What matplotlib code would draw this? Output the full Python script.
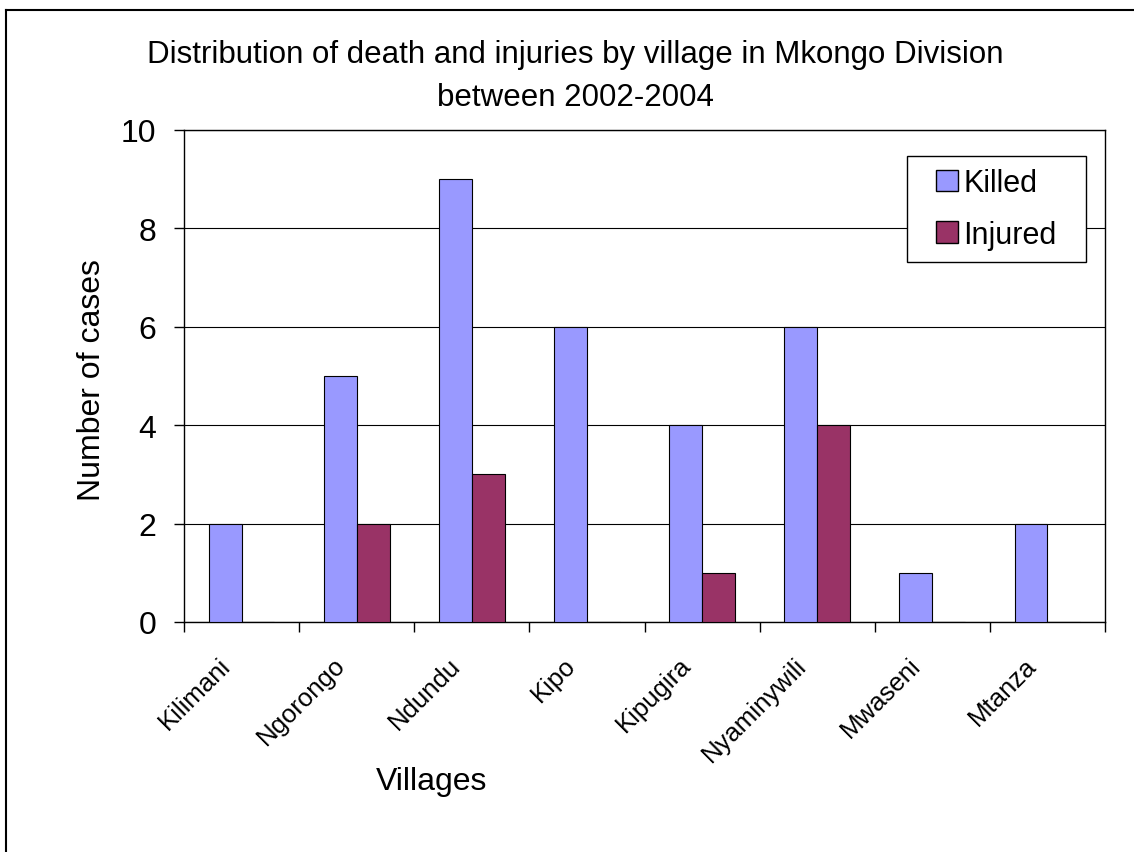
import numpy as np
import matplotlib
matplotlib.use("Agg")
import matplotlib.pyplot as plt
from matplotlib.lines import Line2D
from matplotlib.patches import Rectangle

plt.rcParams['font.family'] = ['Liberation Sans', 'DejaVu Sans']

villages = ["Kilimani", "Ngorongo", "Ndundu", "Kipo", "Kipugira",
            "Nyaminywili", "Mwaseni", "Mtanza"]
killed = [2, 5, 9, 6, 4, 6, 1, 2]
injured = [0, 2, 3, 0, 1, 4, 0, 0]

fig = plt.figure(figsize=(11.34, 8.53), dpi=100)
ax = fig.add_axes([184/1134, 1 - 623/853, (1105 - 184)/1134, (623 - 131)/853])

x = np.arange(len(villages))
w = 1 / 3.5
ax.bar(x - w/2, killed, w, color="#9999FF", edgecolor="black", linewidth=0.8,
       label="Killed", zorder=3)
ax.bar(x + w/2, injured, w, color="#993366", edgecolor="black", linewidth=0.8,
       label="Injured", zorder=3)

ax.set_xlim(-0.5, len(villages) - 0.5)
ax.set_ylim(0, 10)
ax.set_yticks([0, 2, 4, 6, 8, 10])
ax.yaxis.grid(True, color="black", linewidth=0.8, zorder=0)
ax.set_axisbelow(True)

# ticks at the category boundaries, labels near the centres
ax.set_xticks(np.arange(-0.5, len(villages)), minor=False)
ax.set_xticklabels([])
ax.set_xticks(x - 0.13, minor=True)
ax.set_xticklabels(villages, minor=True, rotation=45, ha="right", va="center",
                   rotation_mode="anchor", fontsize=18.5)
ax.tick_params(axis="x", which="minor", length=0, pad=28)
ax.tick_params(axis="x", which="major", length=7, width=1, direction="out")
ax.tick_params(axis="y", length=7, width=1, labelsize=23, pad=13)

for s in ax.spines.values():
    s.set_color("black")
    s.set_linewidth(1)

fig.text(575/1134, 1 - 55/853, "Distribution of death and injuries by village in Mkongo Division",
         ha="center", va="center", fontsize=22.5)
fig.text(575/1134, 1 - 98/853, "between 2002-2004", ha="center", va="center", fontsize=22.5)
fig.text(432/1134, 1 - 782/853, "Villages", ha="center", va="center", fontsize=23)
fig.text(92/1134, 1 - 380/853, "Number of cases", ha="center", va="center",
         rotation=90, fontsize=23)

# legend box drawn separately so its padding matches the original
lx0, lx1, ly0, ly1 = 907, 1086, 157, 263
ax.add_patch(Rectangle((lx0/1134, 1 - ly1/853), (lx1 - lx0)/1134, (ly1 - ly0)/853,
                       transform=fig.transFigure, facecolor="white",
                       edgecolor="black", linewidth=1, zorder=4, clip_on=False))
leg = ax.legend(loc="center", bbox_to_anchor=((lx0 + lx1)/2/1134, 1 - (ly0 + ly1)/2/853),
                bbox_transform=fig.transFigure, fontsize=22, frameon=False,
                handlelength=0.7, handleheight=0.7, handletextpad=0.2,
                borderpad=0, labelspacing=0.7, borderaxespad=0)
leg.set_zorder(5)
for h in leg.legend_handles:
    h.set_linewidth(1)

# outer chart border (left and top edges visible)
fig.add_artist(Line2D([6/1134, 6/1134], [0, 1 - 11/853], color="black", linewidth=1.5,
                      transform=fig.transFigure))
fig.add_artist(Line2D([6/1134, 1], [1 - 11/853, 1 - 11/853], color="black", linewidth=1.5,
                      transform=fig.transFigure))

fig.savefig("out.png", dpi=100)
